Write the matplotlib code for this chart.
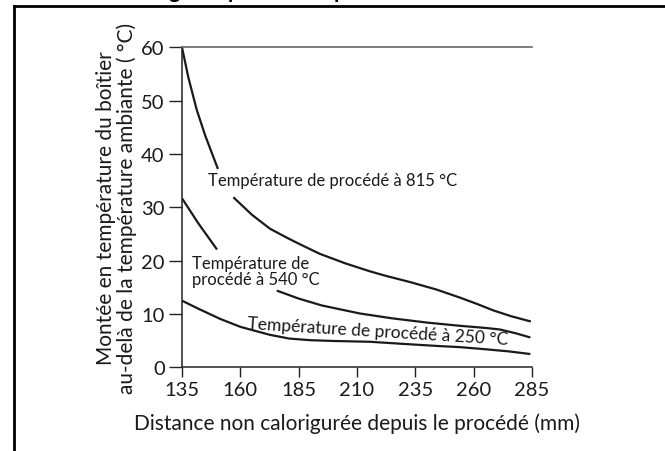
import numpy as np
import matplotlib
matplotlib.use("Agg")
import matplotlib.pyplot as plt
from matplotlib.lines import Line2D

plt.rcParams['font.family'] = ['Lato', 'DejaVu Sans']

# distance (mm) / temperature rise (°C); NaN = gap for a label
x_815 = [135, 137.7, 141.3, 145, 150.4, np.nan, 157, 165, 172.7, 180, 185, 194, 205, 215.6,
         222, 232.7, 244, 254, 262, 268.3, 276, 284.5]
y_815 = [60, 54.4, 48.3, 43.4, 37.2, np.nan, 31.9, 28.6, 26.0, 24.3, 23.2, 21.3, 19.5, 18.0,
         17.2, 16.0, 14.6, 13.1, 11.8, 10.7, 9.6, 8.6]

x_540 = [135, 142, 150, np.nan, 175.6, 185, 195, 211.3, 225, 240, 254, 265, 271.3, 278, 284.3]
y_540 = [31.7, 27.0, 22.1, np.nan, 14.4, 12.9, 11.6, 10.1, 9.2, 8.4, 7.8, 7.4, 7.1, 6.4, 5.6]

x_250 = [135, 142, 151.3, 160, 172.7, 181, 189.9, 200, 215.6, 230, 245, 254, 265, 275, 284.3]
y_250 = [12.5, 11.0, 9.1, 7.6, 6.1, 5.4, 5.1, 4.95, 4.8, 4.4, 4.0, 3.8, 3.4, 3.0, 2.5]

x_ticks = [135, 160, 185, 210, 235, 260, 285]
y_ticks = [0, 10, 20, 30, 40, 50, 60]

fig = plt.figure(figsize=(6.65, 4.52), dpi=100)
ax = fig.add_axes([0.2737, 0.185, 0.8 - 0.2737, 0.893 - 0.185])

for xs, ys in [(x_815, y_815), (x_540, y_540), (x_250, y_250)]:
    ax.plot(xs, ys, color='#1a1a1a', lw=1.6, solid_capstyle='butt', solid_joinstyle='round')

ax.set_xlim(135, 285)
ax.set_ylim(0, 60)
ax.set_xticks(x_ticks)
ax.set_yticks(y_ticks)
ax.tick_params(axis='both', labelsize=14.5, width=1.0, color='#222222', labelcolor='#1a1a1a')
ax.tick_params(axis='x', length=7, pad=3)
ax.tick_params(axis='y', length=9.5, pad=3)

ax.spines['right'].set_visible(False)
ax.spines['top'].set_color('#666666')
ax.spines['top'].set_linewidth(1.2)
ax.spines['left'].set_linewidth(1.1)
ax.spines['bottom'].set_linewidth(1.1)
ax.spines['left'].set_color('#222222')
ax.spines['bottom'].set_color('#222222')

ax.set_xlabel('Distance non calorigurée depuis le procédé (mm)', fontsize=15,
              color='#1a1a1a', labelpad=10)
ax.set_ylabel('Montée en température du boîtier\nau-delà de la température ambiante ( °C)',
              fontsize=15, color='#1a1a1a', labelpad=3, linespacing=1.0)

ax.text(146.1, 35.1, 'Température de procédé à 815 °C', fontsize=12,
        ha='left', va='center', color='#1a1a1a')
ax.text(139.2, 18.1, 'Température de\nprocédé à 540 °C', fontsize=12,
        ha='left', va='center', color='#1a1a1a', linespacing=1.05)
ax.text(219.0, 6.9, 'Température de procédé à 250 °C', fontsize=12.5,
        ha='center', va='center', rotation=-3.5, color='#1a1a1a',
        rotation_mode='anchor')

# outer frame (top and left edges visible)
fig.add_artist(Line2D([13.5 / 665, 1.0], [1 - 7 / 452, 1 - 7 / 452],
                      transform=fig.transFigure, color='black', lw=2.0))
fig.add_artist(Line2D([13.5 / 665, 13.5 / 665], [0, 1 - 7 / 452],
                      transform=fig.transFigure, color='black', lw=2.0))

# cut-off heading above the frame
fig.text(0.03, 1 + 1.5 / 452, 'Élévation de longueur pour la température du boîtier',
         fontsize=15, fontweight='bold', ha='left', va='baseline', color='black')

fig.savefig('out.png', dpi=100)
